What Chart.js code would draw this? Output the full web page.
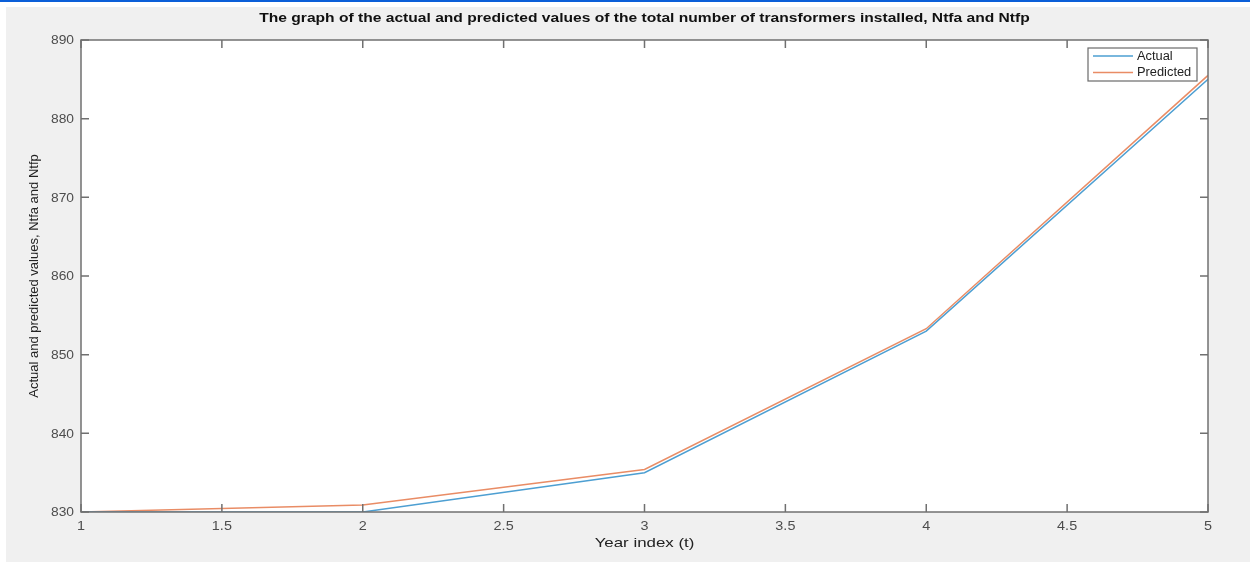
<!DOCTYPE html>
<html>
<head>
<meta charset="utf-8">
<script src="https://cdn.jsdelivr.net/npm/chart.js@4/dist/chart.umd.min.js"></script>
<style>
  html, body { margin: 0; padding: 0; background: #ffffff; }
  #topbar { position: absolute; left: 0; top: 0; width: 1250px; height: 2px; background: #0b5fd8; }
  #bg { position: absolute; left: 6px; top: 7px; width: 1244px; height: 555px; background: #f0f0f0; }
  #wrap { position: absolute; left: 0; top: 0; width: 1250px; height: 562px; }
</style>
</head>
<body>
<div id="topbar"></div>
<div id="bg"></div>
<div id="wrap"><canvas id="c" width="1250" height="562"></canvas></div>
<script>
const yearIndex = [1, 2, 3, 4, 5];
const actualValues = [830, 830, 835, 853, 885];
const predictedValues = [830, 830.9, 835.4, 853.3, 885.5];
const xTicks = [1, 1.5, 2, 2.5, 3, 3.5, 4, 4.5, 5];
const yTicks = [830, 840, 850, 860, 870, 880, 890];
const seriesNames = ['Actual', 'Predicted'];
const titleText = 'The graph of the actual and predicted values of the total number of transformers installed, Ntfa and Ntfp';
const xTitle = 'Year index (t)';
const yTitle = 'Actual and predicted values, Ntfa and Ntfp';

const blue = '#4d9fd2';
const orange = '#e98c65';
const axisColor = '#707070';
const FONT = '"Liberation Sans", Arial, sans-serif';

function stretchedText(ctx, text, x, y, sx, align) {
  ctx.save();
  ctx.translate(x, y);
  ctx.scale(sx, 1);
  ctx.textAlign = align;
  ctx.fillText(text, 0, 0);
  ctx.restore();
}

const framePlugin = {
  id: 'frame',
  beforeDatasetsDraw(chart) {
    const { ctx, chartArea: a } = chart;
    ctx.save();
    ctx.fillStyle = '#ffffff';
    ctx.fillRect(a.left, a.top, a.right - a.left, a.bottom - a.top);
    ctx.restore();
  },
  afterDraw(chart) {
    const { ctx, chartArea: a, scales } = chart;
    ctx.save();
    ctx.strokeStyle = axisColor;
    ctx.lineWidth = 1.5;
    ctx.strokeRect(a.left, a.top, a.right - a.left, a.bottom - a.top);
    const tl = 8;
    ctx.beginPath();
    xTicks.forEach(v => {
      const px = scales.x.getPixelForValue(v);
      ctx.moveTo(px, a.bottom); ctx.lineTo(px, a.bottom - tl);
      ctx.moveTo(px, a.top); ctx.lineTo(px, a.top + tl);
    });
    yTicks.forEach(v => {
      const py = scales.y.getPixelForValue(v);
      ctx.moveTo(a.left, py); ctx.lineTo(a.left + tl, py);
      ctx.moveTo(a.right, py); ctx.lineTo(a.right - tl, py);
    });
    ctx.stroke();

    // tick labels
    ctx.fillStyle = '#4d4d4d';
    ctx.font = '12px ' + FONT;
    ctx.textBaseline = 'middle';
    scales.x.ticks.forEach(t => {
      stretchedText(ctx, String(t.value), scales.x.getPixelForValue(t.value), a.bottom + 15, 1.2, 'center');
    });
    scales.y.ticks.forEach(t => {
      stretchedText(ctx, String(t.value), a.left - 7, scales.y.getPixelForValue(t.value) + 1, 1.15, 'right');
    });

    // main title
    const cx = (a.left + a.right) / 2;
    ctx.fillStyle = '#111111';
    ctx.font = 'bold 13px ' + FONT;
    stretchedText(ctx, titleText, cx, 18, 1.2, 'center');

    // x axis title
    ctx.fillStyle = '#222222';
    ctx.font = '13.5px ' + FONT;
    stretchedText(ctx, xTitle, cx, 543, 1.25, 'center');

    // legend box inside chart area (top-right)
    const bx = a.right - 120, by = a.top + 8, bw = 109, bh = 33;
    ctx.fillStyle = '#ffffff';
    ctx.fillRect(bx, by, bw, bh);
    ctx.strokeStyle = '#6a6a6a';
    ctx.lineWidth = 1.2;
    ctx.strokeRect(bx, by, bw, bh);
    ctx.font = '12px ' + FONT;
    chart.data.datasets.forEach((ds, i) => {
      const ly = by + 8 + i * 16.5;
      ctx.strokeStyle = ds.borderColor;
      ctx.lineWidth = 1.5;
      ctx.beginPath();
      ctx.moveTo(bx + 5, ly); ctx.lineTo(bx + 45, ly);
      ctx.stroke();
      ctx.fillStyle = '#222222';
      stretchedText(ctx, ds.label, bx + 49, ly + 0.5, 1.07, 'left');
    });
    ctx.restore();
  }
};

new Chart(document.getElementById('c'), {
  type: 'line',
  data: {
    labels: yearIndex,
    datasets: [
      { label: seriesNames[0], data: yearIndex.map((x, i) => ({ x, y: actualValues[i] })), borderColor: blue, borderWidth: 1.5, pointRadius: 0, tension: 0, fill: false },
      { label: seriesNames[1], data: yearIndex.map((x, i) => ({ x, y: predictedValues[i] })), borderColor: orange, borderWidth: 1.5, pointRadius: 0, tension: 0, fill: false }
    ]
  },
  options: {
    responsive: false,
    animation: false,
    devicePixelRatio: 1,
    layout: { padding: { left: 0, right: 42, top: 40, bottom: 0 } },
    plugins: {
      legend: { display: false },
      tooltip: { enabled: false },
      title: { display: false }
    },
    scales: {
      x: {
        type: 'linear',
        min: 1, max: 5,
        afterBuildTicks(scale) { scale.ticks = xTicks.map(v => ({ value: v })); },
        afterFit(scale) { scale.height = 50; },
        grid: { display: false, drawTicks: false },
        border: { display: false },
        ticks: { display: false },
        title: { display: false, text: xTitle }
      },
      y: {
        type: 'linear',
        min: 830, max: 890,
        afterBuildTicks(scale) { scale.ticks = yTicks.map(v => ({ value: v })); },
        afterFit(scale) { scale.width = 81; },
        grid: { display: false, drawTicks: false },
        border: { display: false },
        ticks: { display: false },
        title: {
          display: true,
          text: yTitle,
          color: '#222222',
          font: { family: FONT, size: 13 },
          padding: { top: 27, bottom: 0 }
        }
      }
    }
  },
  plugins: [framePlugin]
});
</script>
</body>
</html>
